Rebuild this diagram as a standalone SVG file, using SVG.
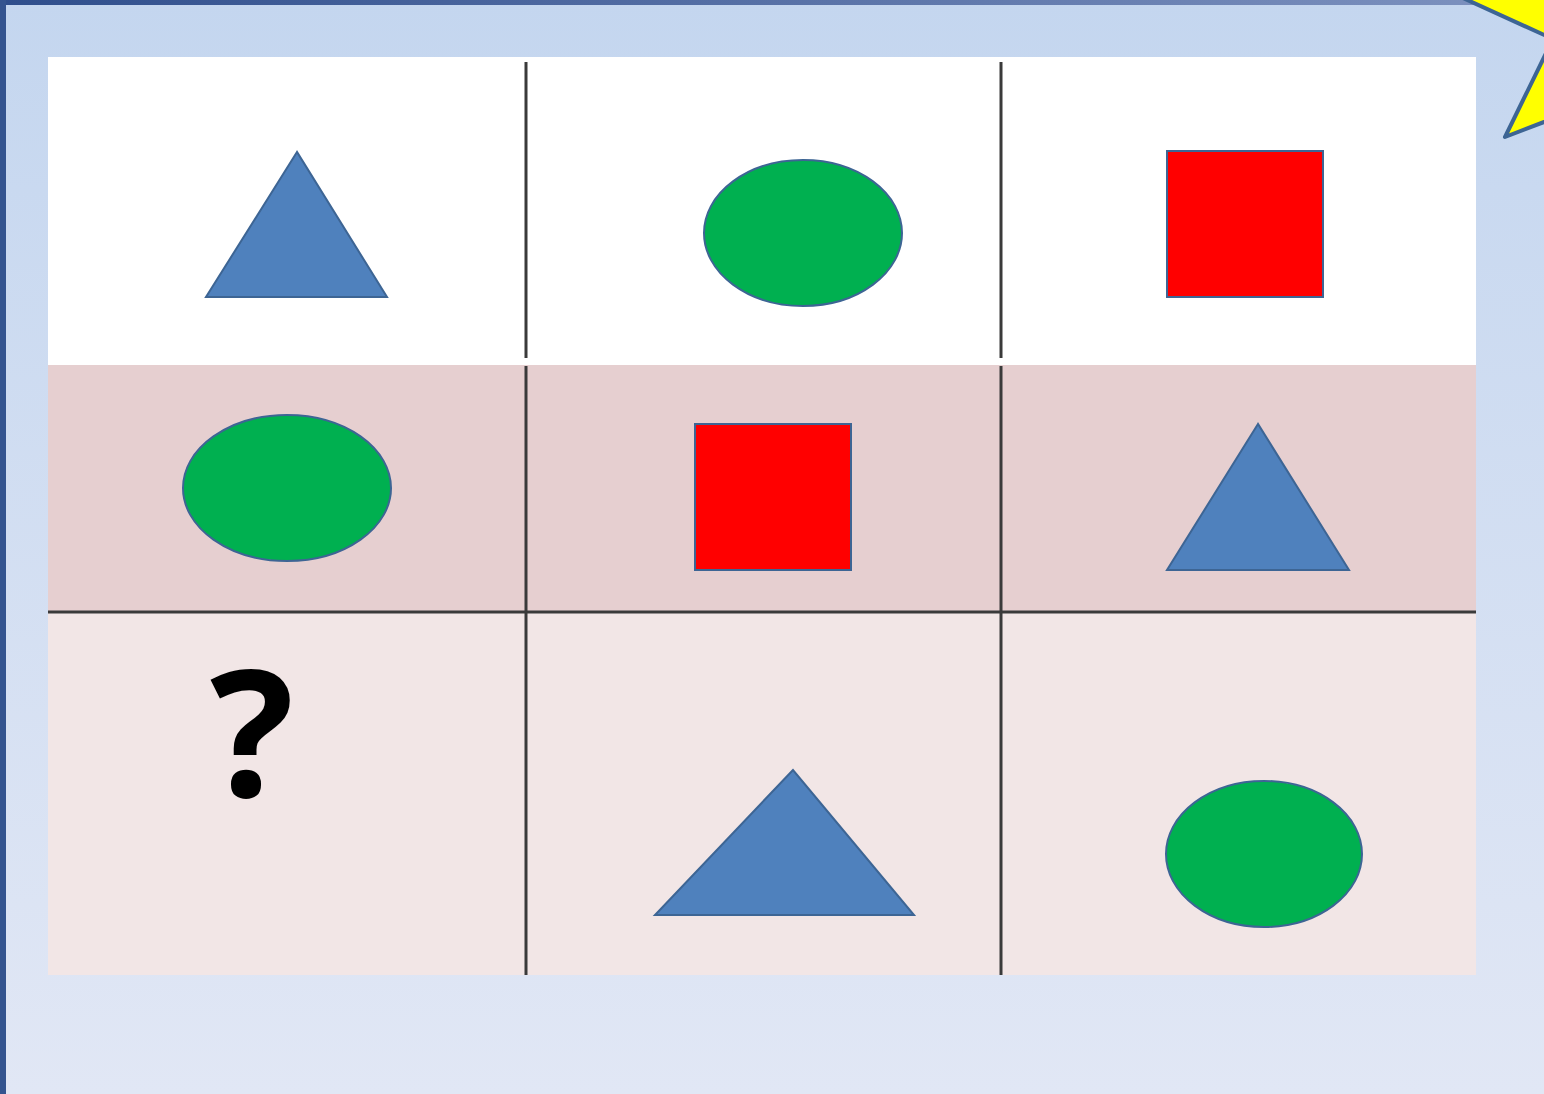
<svg xmlns="http://www.w3.org/2000/svg" width="1544" height="1094" viewBox="0 0 1544 1094">
<style>
.tri{fill:#4f81bd;stroke:#3d6594;stroke-width:2}
.ell{fill:#00b050;stroke:#3d6594;stroke-width:2}
.sq{fill:#ff0000;stroke:#3d6594;stroke-width:2}
.grid{stroke:#3a3a3a;stroke-width:3;fill:none}
</style>
<defs>
<linearGradient id="bg" x1="0" y1="0" x2="0" y2="1">
<stop offset="0" stop-color="#c4d6ef"/>
<stop offset="1" stop-color="#e1e7f5"/>
</linearGradient>
<linearGradient id="top" x1="0" y1="0" x2="1" y2="0">
<stop offset="0" stop-color="#2f4e8c"/>
<stop offset="1" stop-color="#7f93c0"/>
</linearGradient>
</defs>
<rect x="0" y="0" width="1544" height="1094" fill="url(#bg)"/>
<rect x="0" y="0" width="1544" height="5" fill="url(#top)"/>
<rect x="0" y="0" width="6" height="1094" fill="#34548f"/>
<g id="star">
<polygon points="1463,-2 1553,39 1505,137 1570,112 1570,-2" fill="#ffff00" stroke="#3d6594" stroke-width="4" stroke-linejoin="round"/>
</g>
<g id="table">
<rect x="48" y="57" width="1428" height="308" fill="#ffffff"/>
<rect x="48" y="365" width="1428" height="247" fill="#e6cfd0"/>
<rect x="48" y="612" width="1428" height="363" fill="#f2e6e6"/>
</g>
<g id="connectors">
<line class="grid" x1="526" y1="62" x2="526" y2="358"/>
<line class="grid" x1="526" y1="366" x2="526" y2="975"/>
<line class="grid" x1="1001" y1="62" x2="1001" y2="358"/>
<line class="grid" x1="1001" y1="366" x2="1001" y2="975"/>
<line class="grid" x1="48" y1="612" x2="1476" y2="612"/>
</g>
<g id="r1c1"><polygon class="tri" points="297,152 206,297 387,297"/></g>
<g id="r1c2"><ellipse class="ell" cx="803" cy="233" rx="99" ry="73"/></g>
<g id="r1c3"><rect class="sq" x="1167" y="151" width="156" height="146"/></g>
<g id="r2c1"><ellipse class="ell" cx="287" cy="488" rx="104" ry="73"/></g>
<g id="r2c2"><rect class="sq" x="695" y="424" width="156" height="146"/></g>
<g id="r2c3"><polygon class="tri" points="1258,424 1167,570 1349,570"/></g>
<g id="r3c1"><text x="252" y="797" font-family="Open Sans, DejaVu Sans, sans-serif" font-size="176" font-weight="bold" text-anchor="middle" fill="#000000">?</text></g>
<g id="r3c2"><polygon class="tri" points="793,770 655,915 914,915"/></g>
<g id="r3c3"><ellipse class="ell" cx="1264" cy="854" rx="98" ry="73"/></g>
</svg>
